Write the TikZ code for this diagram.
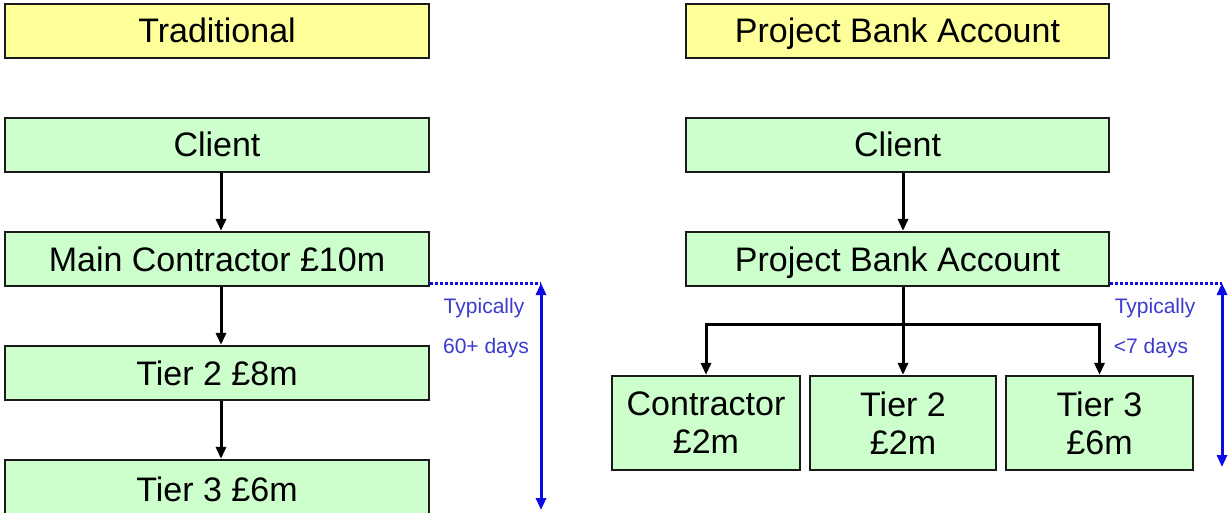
\documentclass[tikz,border=0pt]{standalone}
\usepackage{fontspec}
\setmainfont{Liberation Sans}
\usetikzlibrary{arrows.meta}
\definecolor{headfill}{HTML}{FFFF99}
\definecolor{boxfill}{HTML}{CCFFCC}
\definecolor{boxline}{HTML}{1A1A1A}
\definecolor{notetext}{HTML}{3B3BCC}
\definecolor{spanblue}{HTML}{0A0AE6}
\tikzset{
  x=1pt, y=-1pt,
  basebox/.style={draw=boxline, line width=2.2pt, inner sep=0pt,
    font=\fontsize{34}{38}\selectfont, text=black, align=center},
  oneline/.style={text height=31pt, text depth=7pt},
  headbox/.style={basebox, oneline, fill=headfill},
  flowbox/.style={basebox, fill=boxfill},
  flowline/.style={flowbox, oneline},
  flow/.style={line width=3pt, draw=black, -{Triangle[length=12pt,width=10pt]}},
  note/.style={text=notetext, font=\fontsize{21}{25}\selectfont, inner sep=0pt},
  span/.style={draw=spanblue, line width=3pt, {Triangle[length=12pt,width=10pt]}-{Triangle[length=12pt,width=10pt]}},
  leader/.style={draw=spanblue, line width=3pt, dotted}
}
\newcommand{\boxat}[7]{% name, style, x1, y1, x2, y2, text
  \node[#2, minimum width={#5-#3}, minimum height={#6-#4}] (#1) at ({(#3+#5)/2},{(#4+#6)/2}) {#7};}
\begin{document}
\begin{tikzpicture}
\useasboundingbox (0,0) rectangle (1230,513);

% Traditional chain
\boxat{thead}{headbox}{5}{4}{429}{58}{Traditional}
\boxat{tclient}{flowline}{5}{118}{429}{172}{Client}
\boxat{tmain}{flowline}{5}{232}{429}{286}{Main Contractor £10m}
\boxat{ttwo}{flowline}{5}{346}{429}{400}{Tier 2 £8m}
\boxat{tthree}{flowline}{5}{460}{429}{518}{Tier 3 £6m}

\coordinate (tcol) at (221,0);
\draw[flow] (tclient.south -| tcol) -- (tmain.north -| tcol);
\draw[flow] (tmain.south -| tcol) -- (ttwo.north -| tcol);
\draw[flow] (ttwo.south -| tcol) -- (tthree.north -| tcol);

% Project bank account chain
\boxat{phead}{headbox}{686}{4}{1109}{58}{Project Bank Account}
\boxat{pclient}{flowline}{686}{118}{1109}{172}{Client}
\boxat{pba}{flowline}{686}{232}{1109}{286}{Project Bank Account}
\boxat{pcon}{flowbox}{612}{376}{800}{470}{Contractor\\£2m}
\boxat{ptwo}{flowbox}{810}{376}{996}{470}{Tier 2\\£2m}
\boxat{pthree}{flowbox}{1006}{376}{1193}{470}{Tier 3\\£6m}

\coordinate (pcol) at (903,0);
\draw[flow] (pclient.south -| pcol) -- (pba.north -| pcol);
\coordinate (split) at (903,324);
\draw[flow] (pba.south -| pcol) -- (ptwo.north -| pcol);
\draw[flow] (split) -| (pcon.north);
\draw[flow] (split) -| (pthree.north);

% Payment period markers
\coordinate (tl) at (541,283);
\coordinate (tb) at (541,510);
\draw[leader] (tmain.east |- tl) -- (tl);
\draw[span] (tl) -- (tb);
\node[note, anchor=center] (tnote1) at (484,308) {Typically};
\node[note, anchor=center] (tnote2) at (486,348) {60+ days};

\coordinate (pl) at (1222,283);
\coordinate (pb) at (1222,467);
\draw[leader] (pba.east |- pl) -- (pl);
\draw[span] (pl) -- (pb);
\node[note, anchor=center] (pnote1) at (1155,308) {Typically};
\node[note, anchor=center] (pnote2) at (1151,348) {<7 days};
\end{tikzpicture}
\end{document}
